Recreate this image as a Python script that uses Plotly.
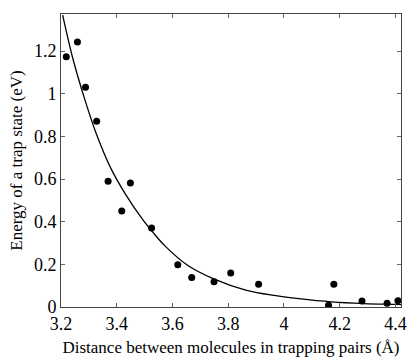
import plotly.graph_objects as go

# measured data points
dist = [3.219, 3.259, 3.288, 3.328, 3.369, 3.418, 3.449, 3.525, 3.619, 3.669,
        3.749, 3.809, 3.909, 4.160, 4.179, 4.280, 4.370, 4.409]
energy = [1.174, 1.243, 1.031, 0.871, 0.590, 0.450, 0.582, 0.370, 0.198, 0.138,
          0.118, 0.160, 0.107, 0.008, 0.107, 0.028, 0.018, 0.029]

# fitted curve
fit_x = [3.206, 3.243, 3.285, 3.326, 3.379, 3.430, 3.496, 3.530, 3.572, 3.654,
         3.748, 3.866, 3.971, 4.053, 4.171, 4.288, 4.404, 4.42]
fit_y = [1.369, 1.163, 0.975, 0.815, 0.650, 0.532, 0.405, 0.350, 0.288, 0.196,
         0.132, 0.078, 0.053, 0.039, 0.024, 0.016, 0.012, 0.011]

x_ticks = [3.2, 3.4, 3.6, 3.8, 4.0, 4.2, 4.4]
x_labels = ["3.2", "3.4", "3.6", "3.8", "4", "4.2", "4.4"]
y_ticks = [0, 0.2, 0.4, 0.6, 0.8, 1.0, 1.2]
y_labels = ["0", "0.2", "0.4", "0.6", "0.8", "1", "1.2"]

font = "Liberation Serif, Times New Roman, DejaVu Serif, serif"

fig = go.Figure()
fig.add_trace(go.Scatter(x=fit_x, y=fit_y, mode="lines",
                         line=dict(color="black", width=1.3, shape="spline",
                                   smoothing=1.0),
                         showlegend=False, hoverinfo="skip"))
fig.add_trace(go.Scatter(x=dist, y=energy, mode="markers",
                         marker=dict(color="black", size=7),
                         showlegend=False))

axis_common = dict(showgrid=False, zeroline=False, showline=True,
                   linecolor="#444", linewidth=1, mirror="ticks",
                   ticks="inside", ticklen=4, tickcolor="#666",
                   tickfont=dict(family=font, size=18, color="black"))

fig.update_xaxes(range=[3.2, 4.42], tickvals=x_ticks, ticktext=x_labels,
                 title=dict(text="Distance between molecules in trapping pairs (Å)",
                            font=dict(family=font, size=17, color="black"),
                            standoff=8),
                 **axis_common)
fig.update_yaxes(range=[0, 1.374], tickvals=y_ticks, ticktext=y_labels,
                 title=dict(text="Energy of a trap state (eV)",
                            font=dict(family=font, size=17, color="black"),
                            standoff=6),
                 **axis_common)

fig.update_layout(width=415, height=361,
                  margin=dict(l=61, r=8, t=14, b=48),
                  paper_bgcolor="white", plot_bgcolor="white")

fig.write_html("out.html")
